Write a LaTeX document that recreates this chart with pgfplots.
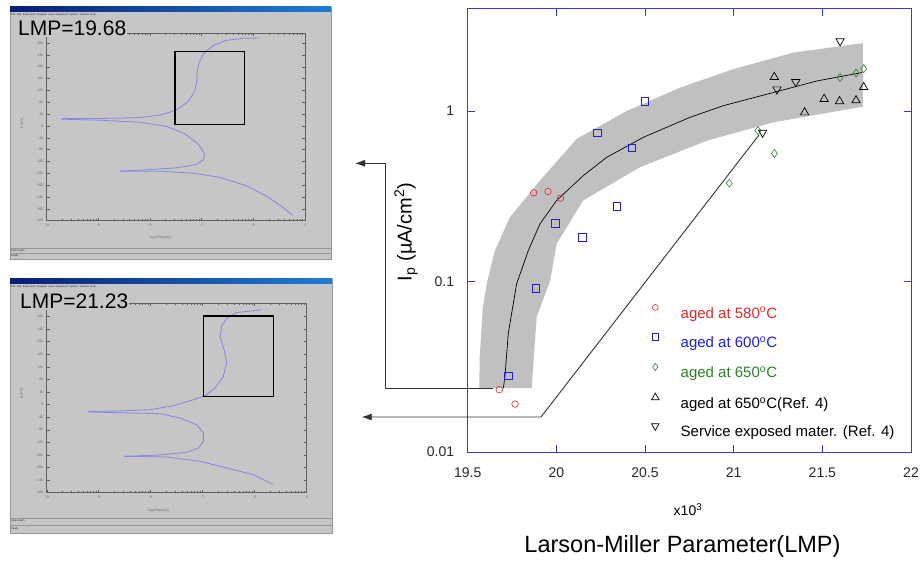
\documentclass[border=0pt]{standalone}
\usepackage{fontspec}
\setmainfont{Liberation Sans}
\usepackage{pgfplots}
\pgfplotsset{compat=1.18}
\usetikzlibrary{arrows.meta}
\definecolor{axblue}{RGB}{55,55,240}
\definecolor{mred}{RGB}{230,40,40}
\definecolor{mblue}{RGB}{30,30,225}
\definecolor{mgreen}{RGB}{40,130,40}
\definecolor{bandgray}{RGB}{192,192,192}
\definecolor{win}{RGB}{198,198,198}
\definecolor{winedge}{RGB}{150,150,150}
\definecolor{curvecol}{RGB}{135,135,225}
\definecolor{ticklab}{RGB}{40,40,40}
\definecolor{framegray}{RGB}{95,95,95}
\definecolor{labgray}{RGB}{110,110,110}
\definecolor{arrowcol}{RGB}{50,50,50}
\definecolor{tbdark}{RGB}{10,30,120}
\definecolor{tblight}{RGB}{30,125,215}

\pgfplotsset{
  shotaxis/.style={
    scale only axis, anchor=south west,
    xmin=-10, xmax=-5,
    xtick={-10,-9,-8,-7,-6,-5},
    minor xtick={-9.699,-9.523,-9.398,-9.301,-9.222,-9.155,-9.097,-9.046,
                 -8.699,-8.523,-8.398,-8.301,-8.222,-8.155,-8.097,-8.046,
                 -7.699,-7.523,-7.398,-7.301,-7.222,-7.155,-7.097,-7.046,
                 -6.699,-6.523,-6.398,-6.301,-6.222,-6.155,-6.097,-6.046,
                 -5.699,-5.523,-5.398,-5.301,-5.222,-5.155,-5.097,-5.046},
    axis line style={draw=framegray, line width=0.5pt},
    tick style={framegray, line width=0.4pt},
    major tick length=3pt, minor tick length=1.8pt,
    tick pos=both, tick align=inside,
    tick label style={font=\fontsize{3.5}{4}\selectfont, text=labgray},
    /pgf/number format/assume math mode=true,
    label style={font=\fontsize{3.5}{4}\selectfont, text=labgray},
    xlabel={log(I/Step(A))}, ylabel={E(mV)},
  }
}

\begin{document}
\begin{tikzpicture}[x=1pt,y=1pt]
\useasboundingbox (0,0) rectangle (922,561);

% ---------- window 1 ----------
\fill[win] (10,302) rectangle (331,554);
\draw[winedge, line width=0.5pt] (10,302) rectangle (331,554);
\shade[left color=tbdark, right color=tblight] (10,549) rectangle (331,554);
\node[anchor=west, inner sep=0pt, font=\fontsize{2.6}{3}\selectfont, text=ticklab] at (11,546.3)
  {File\ \ Edit\ \ Experiment\ \ Analysis\ \ View\ \ Equipment\ \ Options\ \ Window\ \ Help};
\draw[winedge, line width=0.4pt] (10,313) -- (331,313);
\draw[winedge, line width=0.4pt] (10,308) -- (331,308);
\node[anchor=west, inner sep=0pt, font=\fontsize{2.6}{3}\selectfont, text=ticklab] at (11,310.5) {Data Graph};
\node[anchor=west, inner sep=0pt, font=\fontsize{2.6}{3}\selectfont, text=ticklab] at (11,305) {Ready};

% ---------- window 2 ----------
\fill[win] (10,28) rectangle (332,282);
\draw[winedge, line width=0.5pt] (10,28) rectangle (332,282);
\shade[left color=tbdark, right color=tblight] (10,277) rectangle (332,282);
\node[anchor=west, inner sep=0pt, font=\fontsize{2.6}{3}\selectfont, text=ticklab] at (11,274.3)
  {File\ \ Edit\ \ Experiment\ \ Analysis\ \ View\ \ Equipment\ \ Options\ \ Window\ \ Help};
\draw[winedge, line width=0.4pt] (10,43) -- (332,43);
\draw[winedge, line width=0.4pt] (10,36) -- (332,36);
\node[anchor=west, inner sep=0pt, font=\fontsize{2.6}{3}\selectfont, text=ticklab] at (11,40) {Data Graph};
\node[anchor=west, inner sep=0pt, font=\fontsize{2.6}{3}\selectfont, text=ticklab] at (11,32.5) {Ready};

% ---------- screenshot plot 1 ----------
\begin{axis}[shotaxis, at={(46.7pt,340.3pt)}, width=258.3pt, height=187.4pt,
  ymin=-320, ymax=313, ytick={-320,-280,...,280},
  xlabel style={at={(axis description cs:0.44,-0.092)}, anchor=center},
  ylabel style={at={(axis description cs:-0.096,0.52)}, anchor=center}]
\addplot[curvecol, line width=0.8pt] coordinates {
(-9.711,25.1)(-8.971,25.1)(-8.199,28.5)(-7.814,36.4)(-7.492,53.4)(-7.267,81.7)
(-7.138,115.7)(-7.093,149.7)(-7.087,183.7)(-7.055,212.0)(-6.965,243.7)(-6.785,270.9)
(-6.527,289.1)(-6.206,295.9)(-5.884,297.0)};
\addplot[curvecol, line width=0.8pt] coordinates {
(-9.711,22.8)(-8.971,19.4)(-8.199,12.6)(-7.685,-1.0)(-7.331,-25.9)(-7.074,-59.9)
(-6.945,-93.9)(-6.965,-114.3)(-7.106,-130.2)(-7.492,-141.5)(-8.071,-148.3)(-8.585,-152.8)};
\addplot[curvecol, line width=0.8pt] coordinates {
(-8.585,-152.8)(-7.814,-152.8)(-7.170,-159.6)(-6.656,-173.2)(-6.141,-201.6)
(-5.756,-235.6)(-5.466,-269.6)(-5.241,-301.3)};
\end{axis}

% ---------- screenshot plot 2 ----------
\begin{axis}[shotaxis, at={(46.7pt,68.3pt)}, width=260pt, height=189.4pt,
  ymin=-280, ymax=322, ytick={-280,-240,...,280},
  xlabel style={at={(axis description cs:0.43,-0.092)}, anchor=center},
  ylabel style={at={(axis description cs:-0.096,0.526)}, anchor=center}]
\addplot[curvecol, line width=0.8pt] coordinates {
(-9.199,-21.5)(-8.654,-20.5)(-8.013,-16.2)(-7.564,-3.5)(-7.179,15.5)(-6.955,28.2)
(-6.763,52.5)(-6.603,89.6)(-6.538,131.9)(-6.590,174.2)(-6.667,216.5)(-6.635,248.3)
(-6.538,274.7)(-6.346,292.7)(-5.865,301.2)};
\addplot[curvecol, line width=0.8pt] coordinates {
(-9.199,-23.6)(-8.333,-26.8)(-7.821,-28.9)(-7.436,-42.7)(-7.115,-63.9)(-6.987,-90.3)
(-6.987,-116.8)(-7.083,-137.9)(-7.308,-151.7)(-7.821,-160.1)(-8.513,-164.4)};
\addplot[curvecol, line width=0.8pt] coordinates {
(-8.513,-164.4)(-7.692,-166.5)(-7.051,-180.2)(-6.410,-206.7)(-6.026,-222.6)
(-5.769,-243.7)(-5.654,-254.3)};
\end{axis}

% boxes and LMP labels
\draw[black, line width=1.1pt] (175,436.7) rectangle (244.3,509.3);
\draw[black, line width=1.1pt] (203.3,164.3) rectangle (273.3,245);
\node[anchor=base west, fill=win, inner sep=1pt, font=\fontsize{21}{23}\selectfont] at (17,525) {LMP=19.68};
\node[anchor=base west, fill=win, inner sep=1pt, font=\fontsize{21}{23}\selectfont] at (19,252.5) {LMP=21.23};

% ---------- main chart ----------
\begin{axis}[
  at={(467.7pt,109pt)}, anchor=south west,
  scale only axis, width=443.3pt, height=443.7pt,
  xmin=19.5, xmax=22, ymin=0.01, ymax=4, ymode=log,
  xtick={19.5,20,20.5,21,21.5,22}, xticklabels={19.5,20,20.5,21,21.5,22},
  ytick={0.01,0.1,1}, yticklabels={0.01,0.1,1},
  yminorticks=false, xminorticks=false,
  tick align=inside, major tick length=7.5pt, tick pos=both,
  axis line style={draw=axblue, line width=0.9pt},
  tick style={draw=axblue, line width=0.9pt},
  major tick style={draw=axblue, line width=0.9pt},
  tick label style={font=\fontsize{14}{16}\selectfont, text=ticklab},
  /pgf/number format/assume math mode=true,
  yticklabel style={xshift=-10pt},
  xticklabel style={yshift=-12pt},
  legend cell align=left,
  legend image code/.code={\draw[#1, every mark/.append style={scale=0.9}] plot coordinates {(0pt,7pt)}; \path (-4pt,0pt) (23pt,0pt);},
  legend style={draw=none, fill=none, at={(0.413,0.333)}, anchor=north west,
    inner sep=0pt, row sep=10pt,
    nodes={inner sep=2pt, text height=11pt, text depth=3.5pt, font=\fontsize{15}{17}\selectfont}},
]
% band
\addplot[fill=bandgray, draw=none, forget plot] coordinates {
(19.566,0.0237)(19.567,0.035)(19.585,0.07)(19.61,0.1)(19.654,0.152)(19.739,0.239)
(19.908,0.391)(20.115,0.686)(20.397,1.0)(20.698,1.37)(20.999,1.76)(21.338,2.2)(21.729,2.5)
(21.729,1.06)(21.225,0.858)(20.849,0.67)(20.472,0.468)(20.152,0.299)(20.002,0.167)
(19.964,0.1)(19.889,0.062)(19.861,0.0237)} -- cycle;
% trend line
\addplot[black, line width=0.7pt, forget plot] coordinates {
(19.701,0.0237)(19.71,0.0277)(19.729,0.0497)(19.776,0.097)(19.842,0.152)(19.908,0.218)
(20.002,0.299)(20.152,0.418)(20.284,0.535)(20.491,0.701)(20.754,0.918)(20.942,1.074)
(21.225,1.284)(21.47,1.50)(21.723,1.68)};
% data
\addplot[only marks, mark=o, mark size=3.3pt, mred, line width=0.6pt] coordinates {
(19.872,0.331)(19.953,0.337)(20.023,0.308)(19.678,0.0232)(19.767,0.0191)};
\addlegendentry{\textcolor{mred}{aged at 580\textsuperscript{o}C}}
\addplot[only marks, mark=square, mark size=3.8pt, mblue, line width=0.7pt] coordinates {
(20.499,1.14)(20.231,0.743)(20.425,0.608)(20.341,0.275)(19.995,0.22)(20.147,0.181)
(19.884,0.0914)(19.729,0.0279)};
\addlegendentry{\textcolor{mblue}{aged at 600\textsuperscript{o}C}}
\addplot[only marks, mark=diamond, mark size=4pt, mgreen, line width=0.6pt] coordinates {
(21.733,1.77)(21.69,1.67)(21.6,1.57)(21.137,0.767)(21.23,0.563)(20.975,0.377)};
\addlegendentry{\textcolor{mgreen}{aged at 650\textsuperscript{o}C}}
\addplot[only marks, mark=triangle, mark size=4.8pt, black, line width=0.7pt] coordinates {
(21.229,1.58)(21.733,1.38)(21.51,1.175)(21.597,1.14)(21.69,1.153)(21.4,0.98)};
\addlegendentry{aged at 650\textsuperscript{o}C(Ref. 4)}
\addplot[only marks, mark=triangle, mark size=4.8pt, mark options={rotate=180}, black, line width=0.7pt] coordinates {
(21.6,2.57)(21.35,1.48)(21.244,1.34)(21.163,0.747)};
\addlegendentry{Service exposed mater. (Ref. 4)}
\end{axis}
\draw[axblue, line width=0.9pt] (467.7,109) rectangle (911,552.7);

% annotation arrows
\draw[arrowcol, line width=0.9pt, -{Latex[length=10pt,width=7pt]}] (493.3,173) -- (385,173) -- (385,397.7) -- (355,397.7);
\draw[arrowcol, line width=0.9pt, -{Latex[length=10pt,width=7pt]}] (759,426) -- (541,144) -- (361.7,144);

% axis titles
\node[rotate=90, font=\fontsize{20}{22}\selectfont] at (406,329) {I\textsubscript{p} (µA/cm\textsuperscript{2})};
\node[font=\fontsize{14}{16}\selectfont] at (688,51) {x10\textsuperscript{3}};
\node[font=\fontsize{23.5}{26}\selectfont] at (682.5,14.3) {Larson-Miller Parameter(LMP)};
\end{tikzpicture}
\end{document}
